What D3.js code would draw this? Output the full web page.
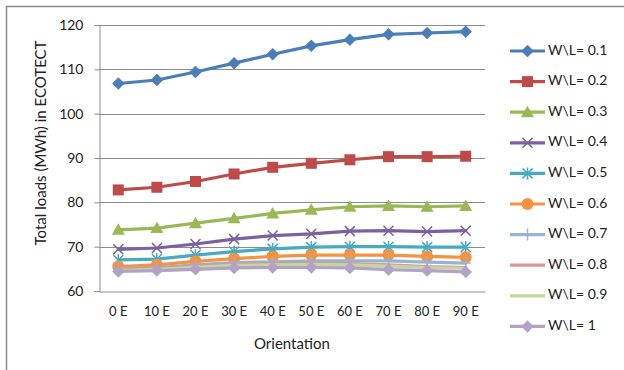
<!DOCTYPE html>
<html>
<head>
<meta charset="utf-8">
<script src="https://cdn.jsdelivr.net/npm/d3@7"></script>
<style>
  html, body { margin: 0; padding: 0; background: #fff; }
  svg { display: block; font-family: Lato, "Liberation Sans", sans-serif; }
</style>
</head>
<body>
<svg id="chart" width="624" height="370"></svg>
<script>
// Orientation categories along the x axis
const orientations = ["0 E", "10 E", "20 E", "30 E", "40 E", "50 E", "60 E", "70 E", "80 E", "90 E"];

// Total loads (MWh) per W\L ratio
const wl01 = [106.8, 107.6, 109.4, 111.4, 113.4, 115.3, 116.7, 117.9, 118.2, 118.5];
const wl02 = [82.8, 83.4, 84.7, 86.4, 87.9, 88.8, 89.6, 90.3, 90.3, 90.4];
const wl03 = [73.8, 74.2, 75.3, 76.4, 77.5, 78.3, 79.0, 79.2, 79.0, 79.2];
const wl04 = [69.4, 69.7, 70.6, 71.7, 72.5, 72.9, 73.5, 73.6, 73.4, 73.6];
const wl05 = [67.0, 67.2, 68.1, 68.9, 69.5, 69.9, 70.0, 70.0, 69.9, 69.9];
const wl06 = [65.5, 65.9, 66.7, 67.3, 67.8, 68.1, 68.1, 68.1, 67.8, 67.6];
const wl07 = [65.0, 65.3, 65.9, 66.4, 66.6, 66.8, 66.8, 66.8, 66.5, 66.3];
const wl08 = [64.8, 65.1, 65.6, 66.0, 66.2, 66.3, 66.2, 65.9, 65.5, 65.3];
const wl09 = [64.6, 64.9, 65.4, 65.8, 65.9, 66.0, 65.9, 65.6, 65.3, 65.1];
const wl10 = [64.4, 64.6, 64.9, 65.2, 65.3, 65.3, 65.2, 64.8, 64.6, 64.3];

const seriesNames = ["W\\L= 0.1", "W\\L= 0.2", "W\\L= 0.3", "W\\L= 0.4", "W\\L= 0.5",
                     "W\\L= 0.6", "W\\L= 0.7", "W\\L= 0.8", "W\\L= 0.9", "W\\L= 1"];
const seriesValues = [wl01, wl02, wl03, wl04, wl05, wl06, wl07, wl08, wl09, wl10];
const seriesColors = ["#4A7EBB", "#BE4B48", "#98B954", "#7D60A0", "#46AAC5",
                      "#F69240", "#95B3D7", "#D99694", "#C3D69B", "#B3A2C7"];
const seriesMarkers = ["diamond", "square", "triangle", "x", "star",
                       "circle", "plus", "none", "none", "diamond"];

const yTicks = [60, 70, 80, 90, 100, 110, 120];

const svg = d3.select("#chart");

// Outer chart frame
svg.append("rect")
  .attr("x", 6.5).attr("y", 6.5)
  .attr("width", 640).attr("height", 400)
  .attr("fill", "none").attr("stroke", "#8a8a8a").attr("stroke-width", 1.5);

const plot = { left: 99, right: 485, top: 25, bottom: 291 };

const x = d3.scaleBand().domain(orientations).range([plot.left, plot.right]);
const y = d3.scaleLinear().domain([60, 120]).range([plot.bottom, plot.top]);

// Horizontal gridlines
svg.append("g")
  .selectAll("line")
  .data(yTicks.slice(1))
  .join("line")
  .attr("x1", plot.left).attr("x2", plot.right)
  .attr("y1", d => Math.round(y(d)) + 0.5).attr("y2", d => Math.round(y(d)) + 0.5)
  .attr("stroke", "#8c8c8c").attr("stroke-width", 1);

// Y axis
const yAxis = svg.append("g")
  .attr("transform", `translate(${plot.left + 0.5},0)`)
  .call(d3.axisLeft(y).tickValues(yTicks).tickSize(5).tickPadding(11).tickFormat(d3.format("d")));
yAxis.select(".domain").attr("stroke", "#8c8c8c");
yAxis.selectAll(".tick line").attr("stroke", "#8c8c8c");
yAxis.selectAll(".tick text")
  .attr("font-size", 14).attr("fill", "#222").style("font-family", "Lato, sans-serif");

// X axis
const xAxis = svg.append("g")
  .attr("transform", `translate(0,${Math.round(plot.bottom) + 0.5})`)
  .call(d3.axisBottom(x).tickSize(0).tickPadding(15));
xAxis.select(".domain").attr("stroke", "#8c8c8c");
xAxis.selectAll(".tick text")
  .attr("font-size", 13).attr("fill", "#222").style("font-family", "Lato, sans-serif");

// Axis titles
svg.append("text")
  .attr("x", (plot.left + plot.right) / 2).attr("y", 345)
  .attr("text-anchor", "middle").attr("dominant-baseline", "middle")
  .attr("font-size", 15).attr("fill", "#222")
  .text("Orientation");

svg.append("text")
  .attr("transform", "translate(42,143) rotate(-90)")
  .attr("text-anchor", "middle").attr("dominant-baseline", "middle")
  .attr("font-size", 15).attr("fill", "#222")
  .text("Total loads (MWh) in ECOTECT");

// Marker drawing helper
function drawMarker(g, type, color, cx, cy) {
  const s = 6;
  if (type === "diamond") {
    g.append("path")
      .attr("d", `M${cx},${cy - s}L${cx + s},${cy}L${cx},${cy + s}L${cx - s},${cy}Z`)
      .attr("fill", color).attr("stroke", color).attr("stroke-width", 0.5);
  } else if (type === "square") {
    g.append("rect")
      .attr("x", cx - 5.5).attr("y", cy - 5.5).attr("width", 11).attr("height", 11)
      .attr("fill", color);
  } else if (type === "triangle") {
    g.append("path")
      .attr("d", `M${cx},${cy - 6.5}L${cx + 6.5},${cy + 5}L${cx - 6.5},${cy + 5}Z`)
      .attr("fill", color);
  } else if (type === "circle") {
    g.append("circle").attr("cx", cx).attr("cy", cy).attr("r", 6).attr("fill", color);
  } else if (type === "x") {
    g.append("path")
      .attr("d", `M${cx - 5},${cy - 5}L${cx + 5},${cy + 5}M${cx + 5},${cy - 5}L${cx - 5},${cy + 5}`)
      .attr("stroke", color).attr("stroke-width", 1.5).attr("fill", "none");
  } else if (type === "star") {
    g.append("path")
      .attr("d", `M${cx - 5},${cy - 5}L${cx + 5},${cy + 5}M${cx + 5},${cy - 5}L${cx - 5},${cy + 5}M${cx},${cy - 6}L${cx},${cy + 6}`)
      .attr("stroke", color).attr("stroke-width", 1.5).attr("fill", "none");
  } else if (type === "plus") {
    g.append("path")
      .attr("d", `M${cx - 5},${cy}L${cx + 5},${cy}M${cx},${cy - 6}L${cx},${cy + 6}`)
      .attr("stroke", color).attr("stroke-width", 1.5).attr("fill", "none");
  }
}

const line = d3.line()
  .x((d, i) => x(orientations[i]) + x.bandwidth() / 2)
  .y(d => y(d));

// Series lines and markers
seriesValues.forEach((vals, k) => {
  const g = svg.append("g");
  g.append("path")
    .attr("d", line(vals))
    .attr("fill", "none")
    .attr("stroke", seriesColors[k])
    .attr("stroke-width", 3.2)
    .attr("stroke-linejoin", "round")
    .attr("stroke-linecap", "round");
  vals.forEach((v, i) => {
    drawMarker(g, seriesMarkers[k], seriesColors[k], x(orientations[i]) + x.bandwidth() / 2, y(v));
  });
});

// Legend
const legend = svg.append("g");
seriesNames.forEach((name, k) => {
  const ly = 51 + k * 30.6;
  const g = legend.append("g");
  g.append("line")
    .attr("x1", 510).attr("x2", 545).attr("y1", ly).attr("y2", ly)
    .attr("stroke", seriesColors[k]).attr("stroke-width", 3.2);
  drawMarker(g, seriesMarkers[k], seriesColors[k], 527.5, ly);
  g.append("text")
    .attr("x", 548).attr("y", ly)
    .attr("dominant-baseline", "middle")
    .attr("font-size", 14).attr("fill", "#222")
    .text(name);
});
</script>
</body>
</html>
